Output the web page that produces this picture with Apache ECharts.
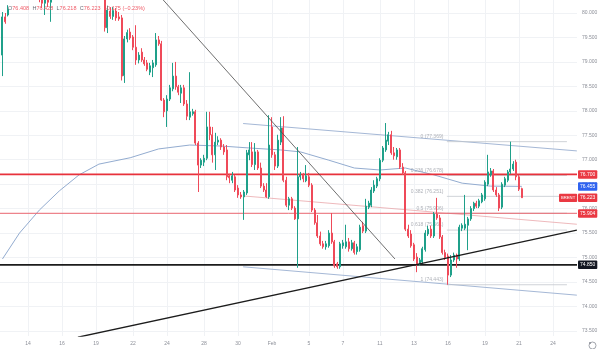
<!DOCTYPE html>
<html>
<head>
<meta charset="utf-8">
<script src="https://cdn.jsdelivr.net/npm/echarts@6/dist/echarts.min.js"></script>
<style>
  html, body { margin: 0; padding: 0; background: #ffffff; }
  #chart { width: 600px; height: 349px; }
</style>
</head>
<body>
<div id="chart"></div>
<script>
// Brent, 4-hour bars. Slot 0 is the first bar of 14 Jan; Sunday sessions hold one bar.
const firstSlot = -9;

// [open, close, low, high] per bar, oldest first
const ohlc = [
  [79.14, 79.92, 78.71, 80.02], [79.92, 79.82, 79.78, 80.00], [79.96, 80.08, 79.93, 80.16],
  [80.40, 80.75, 80.35, 80.90], [80.75, 81.10, 80.60, 81.30], [81.10, 81.00, 80.85, 81.40],
  [81.00, 81.25, 80.90, 81.45], [81.25, 81.05, 80.90, 81.35], [81.05, 80.85, 80.70, 81.20],
  [80.85, 80.70, 80.50, 81.00], [80.70, 80.60, 80.40, 80.85], [80.60, 80.45, 80.35, 80.75],
  [80.45, 80.40, 80.30, 80.60], [80.40, 80.30, 80.22, 80.55], [80.30, 80.20, 80.10, 80.45],
  [80.20, 80.34, 79.96, 80.45], [80.34, 80.22, 80.12, 80.48], [80.22, 80.45, 79.82, 80.55],
  [80.45, 80.70, 80.40, 80.85], [80.70, 81.00, 80.60, 81.15], [81.00, 81.40, 80.90, 81.55],
  [81.40, 81.80, 81.30, 82.00], [81.80, 82.10, 81.70, 82.30], [82.10, 81.90, 81.75, 82.25],
  [81.90, 81.70, 81.55, 82.00], [81.70, 81.85, 81.60, 82.00], [81.85, 81.60, 81.45, 81.95],
  [81.60, 81.40, 81.30, 81.70], [81.40, 81.50, 81.25, 81.65], [81.50, 81.20, 81.10, 81.60],
  [81.20, 81.30, 81.05, 81.45], [81.30, 81.10, 80.95, 81.40], [81.10, 80.95, 80.80, 81.20],
  [80.95, 80.80, 80.65, 81.05], [80.80, 80.60, 80.45, 80.90], [80.60, 80.40, 80.30, 80.70],
  [80.40, 79.70, 79.62, 80.45], [79.70, 80.06, 79.59, 80.15], [80.04, 79.93, 79.88, 80.12],
  [79.93, 80.05, 79.86, 80.12], [80.04, 79.90, 79.84, 80.10], [79.92, 79.88, 79.84, 80.02],
  [79.90, 78.71, 78.62, 79.96], [78.72, 79.47, 78.57, 79.53], [79.47, 79.60, 79.40, 79.66],
  [79.61, 79.49, 79.45, 79.69], [79.51, 79.30, 79.24, 79.55], [79.30, 79.04, 78.94, 79.75],
  [79.04, 79.14, 78.97, 79.20], [79.20, 79.04, 79.00, 79.28], [79.04, 78.96, 78.92, 79.10],
  [78.98, 78.85, 78.81, 79.04], [78.79, 78.92, 78.73, 78.98], [78.88, 78.98, 78.69, 79.04],
  [78.94, 79.45, 78.90, 79.59], [79.45, 79.37, 79.33, 79.53], [79.37, 78.22, 78.20, 79.43],
  [78.22, 77.98, 77.87, 78.26], [78.00, 78.24, 77.67, 78.32], [78.24, 78.47, 78.20, 78.53],
  [78.45, 78.71, 78.40, 78.98], [78.71, 78.49, 78.43, 79.00], [78.49, 78.38, 78.32, 78.53],
  [78.36, 78.47, 78.16, 78.53], [78.47, 78.14, 78.10, 78.53], [78.14, 77.89, 77.81, 78.22],
  [77.87, 77.98, 77.81, 78.79], [77.94, 77.98, 77.90, 78.04], [77.98, 77.34, 77.30, 78.02],
  [77.34, 76.89, 76.34, 77.38], [76.89, 76.99, 76.83, 77.03], [76.95, 77.03, 76.87, 77.10],
  [77.03, 77.67, 76.99, 77.98], [77.67, 77.51, 77.40, 77.98], [77.51, 77.10, 76.94, 77.67],
  [77.10, 77.36, 76.79, 77.55], [77.36, 77.40, 77.30, 77.48], [77.40, 77.26, 77.20, 77.44],
  [77.26, 77.16, 77.10, 77.32], [77.20, 76.65, 76.58, 77.30], [76.67, 76.63, 76.52, 76.71],
  [76.58, 76.67, 76.52, 76.75], [76.65, 76.38, 76.34, 76.69], [76.42, 76.28, 76.22, 76.48],
  [76.28, 76.24, 76.20, 76.34], [76.24, 76.34, 75.77, 76.38], [76.32, 77.14, 76.28, 77.20],
  [77.10, 77.20, 76.99, 77.36], [77.16, 76.90, 76.85, 77.36], [76.90, 77.16, 76.79, 77.34],
  [77.16, 76.83, 76.79, 77.20], [76.83, 76.46, 76.42, 76.94], [76.46, 76.38, 76.34, 76.52],
  [76.38, 76.24, 76.22, 76.52], [76.24, 77.30, 76.20, 77.91], [77.67, 77.10, 77.04, 77.87],
  [77.10, 76.87, 76.79, 77.16], [76.87, 77.40, 76.83, 77.51], [77.36, 77.65, 77.30, 77.87],
  [77.65, 76.58, 76.54, 77.89], [76.58, 76.07, 76.03, 76.65], [76.07, 76.20, 75.97, 76.24],
  [76.20, 76.01, 75.97, 76.24], [76.01, 75.79, 75.77, 76.05], [75.79, 76.65, 74.79, 77.26],
  [76.65, 76.69, 76.58, 76.75], [76.69, 76.61, 76.54, 76.73], [76.57, 76.67, 76.54, 76.89],
  [76.65, 76.48, 76.44, 76.73], [76.48, 75.97, 75.93, 76.52], [75.97, 75.71, 75.67, 76.01],
  [75.71, 75.44, 75.40, 75.87], [75.44, 75.28, 75.24, 75.53], [75.28, 75.22, 75.18, 75.34],
  [75.22, 75.28, 75.16, 75.34], [75.24, 75.50, 75.20, 75.56], [75.50, 75.32, 75.28, 75.91],
  [75.32, 74.83, 74.79, 75.36], [74.87, 74.81, 74.77, 74.91], [74.81, 75.28, 74.77, 75.32],
  [75.24, 75.30, 75.18, 75.36], [75.22, 75.32, 75.18, 75.67], [75.32, 75.18, 75.12, 75.40],
  [75.18, 75.30, 75.14, 75.36], [75.30, 75.10, 75.06, 75.34], [75.12, 75.22, 75.06, 75.28],
  [75.16, 75.62, 75.12, 75.67], [75.65, 75.54, 75.50, 75.73], [75.54, 76.05, 75.50, 76.20],
  [76.03, 76.11, 75.99, 76.16], [76.07, 76.38, 76.03, 76.44], [76.36, 76.48, 76.32, 76.58],
  [76.46, 76.61, 76.42, 76.65], [76.61, 76.99, 76.56, 77.03], [76.99, 77.24, 76.95, 77.28],
  [77.20, 77.40, 77.16, 77.75], [77.38, 77.51, 77.30, 77.57], [77.51, 77.14, 77.10, 77.59],
  [77.14, 77.08, 77.00, 77.26], [77.06, 77.20, 77.00, 77.24], [77.20, 76.85, 76.81, 77.24],
  [76.85, 76.73, 76.69, 76.93], [76.73, 75.58, 75.54, 76.77], [75.58, 75.44, 75.40, 75.67],
  [75.48, 75.24, 75.20, 75.56], [75.26, 74.97, 74.93, 75.30], [75.01, 74.87, 74.70, 75.09],
  [74.87, 74.95, 74.83, 74.99], [74.91, 75.18, 74.87, 75.22], [75.16, 75.50, 75.12, 75.56],
  [75.48, 75.58, 75.44, 75.65], [75.58, 75.44, 75.40, 75.65], [75.44, 75.89, 75.40, 75.93],
  [75.89, 75.81, 75.77, 76.22], [75.81, 75.42, 75.38, 75.87], [75.42, 75.10, 75.06, 75.46],
  [75.10, 75.00, 74.95, 75.16], [75.03, 74.64, 74.443, 75.08], [74.64, 74.95, 74.60, 75.05],
  [74.95, 75.05, 74.91, 75.10], [75.05, 74.97, 74.79, 75.08], [74.97, 75.62, 74.93, 75.67],
  [75.60, 75.66, 75.54, 75.70], [75.60, 75.68, 75.56, 76.28], [75.66, 75.79, 75.15, 75.83],
  [75.79, 76.00, 75.75, 76.05], [76.00, 76.11, 75.95, 76.14], [76.11, 76.05, 76.01, 76.16],
  [76.05, 76.16, 76.01, 76.20], [76.14, 76.28, 76.11, 76.32], [76.20, 76.54, 76.16, 76.58],
  [76.50, 76.75, 76.46, 77.10], [76.69, 76.77, 76.65, 76.83], [76.77, 76.38, 76.34, 76.81],
  [76.38, 76.28, 76.24, 76.44], [76.28, 76.01, 75.95, 76.32], [76.03, 76.50, 75.99, 76.54],
  [76.48, 76.61, 76.44, 76.65], [76.58, 76.75, 76.54, 76.79], [76.75, 76.81, 76.71, 77.369],
  [76.81, 76.91, 76.77, 76.97], [76.95, 76.65, 76.58, 77.00], [76.65, 76.398, 76.36, 76.69],
  [76.408, 76.223, 76.218, 76.428]
];

// moving average read at selected bars: [slot, price]
const maPoints = [
  [-9, 74.97], [-3, 75.50], [4, 75.97], [11, 76.36], [18, 76.69], [25, 76.91],
  [36, 77.04], [46, 77.22], [57, 77.30], [68, 77.28], [78, 77.24], [89, 77.20],
  [96, 77.16], [106, 76.99], [115, 76.83], [124, 76.79], [133, 76.83], [143, 76.69],
  [153, 76.52], [163, 76.46], [174, 76.455]
];

// horizontal levels
const supportResistance = [76.700, 75.904, 74.850];
const maLast = 76.455;

// Fibonacci retracement, swing 74.443 -> 77.369
const fibRatios = [0, 0.236, 0.382, 0.5, 0.618, 1];
const fibPrices = [77.369, 76.678, 76.251, 75.906, 75.561, 74.443];
const fibSpan = [147.6, 189.9];

// drawn trend lines, each from [slot, price] to [slot, price]
const descendingLine = [[47.6, 80.27], [129.3, 74.97]];
const ascendingLine = [[17.6, 73.37], [193.4, 75.56]];
const channelUpper = [[75.8, 77.74], [193.4, 77.18]];
const channelMiddle = [[75.8, 76.26], [193.4, 75.68]];
const channelLower = [[75.8, 74.81], [193.4, 74.23]];

// time scale
const dayTicks = [0, 12, 24, 37, 49, 62, 74, 86, 99, 111, 124, 136, 148, 161, 173, 185];
const dayLabels = ['14', '16', '19', '22', '24', '28', '30', 'Feb', '5', '7', '11', '13', '16', '19', '21', '24'];

// price scale
const priceTicks = [73.5, 74.0, 74.5, 75.0, 75.5, 76.0, 76.5, 77.0, 77.5, 78.0, 78.5, 79.0, 79.5, 80.0];

const X_MIN = -9.866, X_MAX = 193.45;
const UP = '#1fa08a';
const DOWN = '#ef4a59';
const FONT = '"Liberation Sans", Arial, sans-serif';
const CLEAR = 'rgba(0,0,0,0)';

const bars = ohlc.map((r, i) => [firstSlot + i, r[0], r[1], r[2], r[3]]);
const last = ohlc[ohlc.length - 1];
const prevClose = ohlc[ohlc.length - 2][1];
const change = last[1] - prevClose;
const changePct = change / prevClose * 100;
const signed = (v, d) => (v < 0 ? '\u2212' : '+') + Math.abs(v).toFixed(d);

function trend(points, color, width, z) {
  return {
    type: 'line', data: points, symbol: 'none', silent: true, clip: true, z: z || 3,
    lineStyle: { color: color, width: width }, animation: false
  };
}

// price tag on the right scale
function priceTag(value, bg) {
  return {
    yAxis: value,
    lineStyle: { color: CLEAR, width: 0 },
    label: {
      show: true, position: 'end', distance: 1,
      formatter: value.toFixed(3),
      backgroundColor: bg, color: '#ffffff', fontSize: 5, fontFamily: FONT,
      padding: [2, 2, 1.5, 2], borderRadius: 1
    }
  };
}

const levelColors = ['#e8323c', '#e9656f', '#1c1c1c'];
const levelWidths = [1.6, 1, 1.6];
const levelTags = ['#ea3943', '#ea3943', '#131722'];

const levelLines = supportResistance.map((v, i) =>
  trend([[X_MIN, v], [X_MAX, v]], levelColors[i], levelWidths[i], 4));

const tags = supportResistance.map((v, i) => priceTag(v, levelTags[i]));
tags.push(priceTag(maLast, '#2f63f0'));
tags.push(priceTag(last[1], '#ea3943'));
tags.push({
  yAxis: last[1],
  lineStyle: { color: CLEAR, width: 0 },
  label: {
    show: true, position: 'end', distance: 1, offset: [-19, 0],
    formatter: 'BRENT', backgroundColor: '#ea3943', color: '#ffffff',
    fontSize: 4.2, fontFamily: FONT, padding: [2.3, 2, 1.8, 2], borderRadius: 1
  }
});

const fibLines = fibPrices.map(p => trend([[fibSpan[0], p], [fibSpan[1], p]], '#c3c6cd', 0.8, 2));
const fibLabels = {
  type: 'scatter', silent: true, z: 4, symbol: 'circle', symbolSize: 1,
  itemStyle: { color: CLEAR },
  data: fibPrices.map((p, i) => [fibSpan[0], p, fibRatios[i] + ' (' + p.toFixed(3) + ')']),
  label: {
    show: true, position: 'left', distance: 3, offset: [0, -5],
    formatter: prm => prm.value[2],
    color: '#9a9da6', fontSize: 5, fontFamily: FONT
  },
  animation: false
};

const chart = echarts.init(document.getElementById('chart'), null, { renderer: 'canvas' });

chart.setOption({
  animation: false,
  backgroundColor: '#ffffff',
  textStyle: { fontFamily: FONT },
  grid: { left: 0, top: 0, width: 577, height: 336, containLabel: false, outerBoundsMode: 'none' },
  xAxis: {
    type: 'value', min: X_MIN, max: X_MAX,
    axisLine: { show: false },
    axisTick: { show: false, customValues: dayTicks },
    splitLine: { show: true, lineStyle: { color: '#f0f2f5', width: 1 } },
    axisLabel: {
      customValues: dayTicks,
      formatter: v => dayLabels[dayTicks.indexOf(v)] || '',
      fontSize: 5, color: '#8c8f98', margin: 5, fontFamily: FONT
    }
  },
  yAxis: {
    type: 'value', position: 'right', min: 73.395, max: 80.266,
    axisLine: { show: false },
    axisTick: { show: false, customValues: priceTicks },
    splitLine: { show: true, lineStyle: { color: '#f0f2f5', width: 1 } },
    axisLabel: {
      customValues: priceTicks,
      formatter: v => v.toFixed(3),
      fontSize: 5, color: '#8c8f98', margin: 5, fontFamily: FONT
    }
  },
  series: [
    trend(maPoints, '#93acd0', 1, 2),
    trend(channelUpper, '#a5b8d6', 1, 2),
    trend(channelLower, '#a5b8d6', 1, 2),
    trend(channelMiddle, '#eaa7ab', 0.8, 2),
    ...fibLines,
    fibLabels,
    ...levelLines,
    {
      type: 'candlestick',
      data: bars,
      encode: { x: 0, y: [1, 2, 3, 4] },
      barWidth: 1.5,
      clip: true,
      z: 5,
      itemStyle: { color: UP, color0: DOWN, borderColor: UP, borderColor0: DOWN, borderWidth: 1 },
      markLine: { silent: true, symbol: ['none', 'none'], animation: false, data: tags, z: 8 }
    },
    trend(descendingLine, '#4a4a4a', 0.8, 7),
    trend(ascendingLine, '#1c1c1c', 1.3, 7)
  ],
  graphic: [
    {
      type: 'text', left: 8, top: 2.5, z: 20,
      style: {
        text: '{k|O}{v|' + last[0].toFixed(3) + '} {k|H}{v|' + last[3].toFixed(3) + '} {k|L}{v|' +
              last[2].toFixed(3) + '} {k|C}{v|' + last[1].toFixed(3) + '} {v|' + signed(change, 3) +
              ' (' + signed(changePct, 2) + '%)}',
        rich: {
          k: { fill: '#6b6e78', fontSize: 5.5, fontFamily: FONT },
          v: { fill: '#ef5b67', fontSize: 5.5, fontFamily: FONT }
        }
      }
    },
    {
      type: 'circle', left: 586.5, top: 339.5, z: 20,
      shape: { r: 3.5 }, style: { fill: 'none', stroke: '#8c8f98', lineWidth: 0.8 }
    },
    {
      type: 'circle', left: 589, top: 342, z: 20,
      shape: { r: 1 }, style: { fill: '#8c8f98' }
    }
  ]
});
</script>
</body>
</html>
